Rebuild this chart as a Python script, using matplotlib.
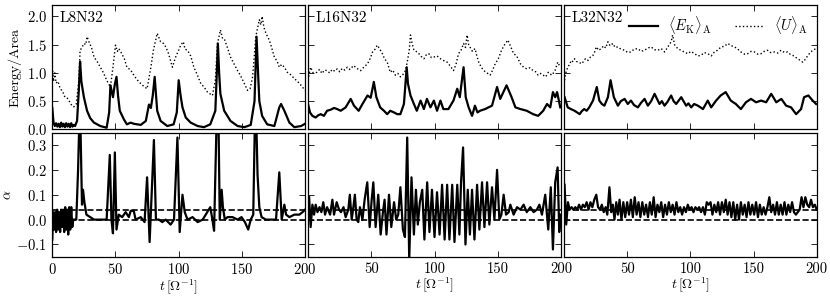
import numpy as np
import matplotlib.pyplot as plt

plt.rcParams['font.family'] = 'serif'
plt.rcParams['font.serif'] = ['cmr10']
plt.rcParams['mathtext.fontset'] = 'cm'
plt.rcParams['axes.formatter.use_mathtext'] = True
plt.rcParams['font.size'] = 10.5

runs = ['L8N32', 'L16N32', 'L32N32']

# ---- L8N32 ----
t_ek_l8 = [0, 1, 2, 3, 4, 5, 6, 7, 8, 9, 10, 11, 12, 13, 14, 15, 16, 17, 18, 19.6, 21, 22, 23, 25, 27.5, 30, 33, 38, 43,
           45, 46, 48, 49.5, 50.8, 52, 53.4, 56.6, 59, 62, 64.5, 70, 74, 76.5, 78, 79.5, 81, 83, 85.7, 91, 96, 98.5,
           100, 101.5, 103, 105.6, 109.5, 115, 120, 125, 129, 130, 131, 132, 133, 136, 141, 146.6, 152, 157, 160,
           161.6, 163, 163.8, 166, 170, 175.7, 179.6, 181, 183.6, 187.6, 191.5, 196.8, 200]
ek_l8 = [0.38, 0.12, 0.06, 0.11, 0.05, 0.1, 0.04, 0.12, 0.05, 0.1, 0.04, 0.11, 0.05, 0.1, 0.04, 0.11, 0.05, 0.08, 0.06,
         0.15, 0.7, 1.2, 0.85, 0.57, 0.33, 0.2, 0.12, 0.06, 0.03,
         0.3, 0.78, 0.57, 0.8, 0.93, 0.6, 0.33, 0.18, 0.09, 0.12, 0.1, 0.08, 0.15, 0.44, 0.38, 0.6, 0.93, 0.33, 0.15,
         0.06, 0.09, 0.3, 0.87, 0.6, 0.39, 0.21, 0.12, 0.06, 0.04, 0.09, 0.33, 0.9, 1.52, 1.0, 0.63, 0.33, 0.15, 0.06,
         0.04, 0.08, 0.5, 1.64, 0.9, 0.5, 0.24, 0.09, 0.06, 0.39, 0.45, 0.33, 0.12, 0.04, 0.06, 0.1]
t_u_l8 = [0, 1, 2, 3, 4.5, 6.3, 8, 10, 12, 14, 15.5, 17, 19, 21, 22, 23.5, 25, 26.5, 27.5, 29, 31, 33, 35.5, 38, 40.5, 43,
          46, 48, 50, 51.5, 52.6, 55, 57, 59, 62, 64.5, 67, 70, 72.5, 75, 78, 80, 81.5, 83, 85.7, 88, 90, 92, 95, 97.6,
          100, 101.6, 103.7, 105, 107, 109.5, 112, 115, 117.5, 120, 122.8, 126.7, 129, 130.7, 132, 133, 134.5, 136,
          138.5, 141, 144, 146.6, 149, 152, 154.5, 156.5, 158.5, 161, 163.8, 165, 166, 167.5, 169, 171.7, 173.5,
          175.7, 178, 179.6, 181.5, 183.6, 186, 188.5, 191.5, 194, 196.8, 200]
u_l8 = [1.1, 0.85, 1.0, 0.82, 0.85, 0.72, 0.68, 0.57, 0.55, 0.48, 0.42, 0.4, 0.45, 0.87, 1.4, 1.45, 1.52, 1.5, 1.64,
        1.55, 1.45, 1.28, 1.2, 1.1, 1.0, 0.87, 0.75, 1.1, 1.49, 1.38, 1.43, 1.34, 1.25, 1.1, 1.05, 0.96, 0.88, 0.81,
        0.76, 0.72, 1.1, 1.4, 1.55, 1.7, 1.55, 1.52, 1.45, 1.34, 1.1, 1.28, 1.4, 1.49, 1.55, 1.42, 1.4, 1.3, 1.1,
        0.95, 0.81, 0.75, 0.66, 0.6, 0.87, 1.52, 1.65, 1.76, 1.62, 1.61, 1.45, 1.28, 1.15, 1.04, 0.95, 0.81, 0.69,
        0.72, 0.93, 1.64, 1.94, 1.85, 2.0, 1.8, 1.7, 1.58, 1.45, 1.28, 1.2, 1.1, 1.15, 1.1, 1.01, 0.97, 0.9, 0.85,
        0.78, 0.69]
t_a_l8 = [0, 0.7, 1.5, 2.3, 3.0, 3.8, 4.6, 5.4, 6.2, 7.0, 7.8, 8.6, 9.4, 10.2, 11.0, 11.8, 12.6, 13.4, 14.2, 15.0,
          15.8, 16.6, 17.5, 19, 20.4, 21.4, 22.2, 23.5, 24.3, 25.4, 27, 30, 33, 38, 43, 45.5, 46.8, 48, 49.5, 50.8,
          52.6, 55.3, 58, 60.6, 62, 64.5, 65.9, 70, 73, 75, 77, 78.6, 80.4, 82, 84.4, 87, 89.7, 93.6, 96.3, 99, 100.8,
          103, 104.8, 107, 111, 115, 119, 121.4, 125, 126.7, 128, 130, 131.5, 132.5, 134, 135, 136.5, 138.6, 142.6,
          146.6, 149.7, 152.4, 155, 157, 159, 160.3, 161.4, 162.4, 163.8, 165.6, 169, 173, 177, 179.6, 181.5, 183.6,
          185, 187.6, 191.5, 195.5, 198, 200]
a_l8 = [-0.08, 0.03, -0.04, 0.03, -0.05, 0.04, -0.04, 0.03, -0.05, 0.04, -0.03, 0.04, -0.05, 0.05, -0.04, 0.04,
        -0.06, 0.05, -0.04, 0.05, -0.03, 0.0, 0.0, 0.0, 0.2, 0.4, 0.4, 0.06, 0.12, 0.07, 0.02, 0.01, 0.0, 0.0, 0.0,
        0.26, 0.0, -0.055, 0.27, -0.04, 0.02, 0.01, 0.03, 0.01, 0.035, 0.035, 0.0, 0.01, -0.01, 0.17, -0.09, 0.1,
        0.32, 0.0, 0.0, -0.01, 0.0, -0.02, 0.0, 0.33, -0.05, 0.1, 0.03, 0.0, 0.01, -0.01, 0.0, 0.02, 0.05, 0.0,
        -0.045, 0.4, 0.4, 0.0, 0.12, 0.05, 0.0, 0.01, 0.01, 0.0, 0.01, -0.01, -0.04, 0.0, 0.02, 0.4, 0.4, 0.18, 0.05,
        0.01, 0.0, 0.0, 0.0, 0.19, 0.0, 0.06, 0.02, 0.01, 0.02, 0.02, 0.03, 0.04]

# ---- L16N32 ----
t_ek_l16 = [0, 1.5, 3.4, 6, 8, 10, 12.5, 15, 18, 20.5, 23, 25.8, 29.7, 33.7, 36.3, 40, 43, 47, 49.5, 52, 54, 57, 60,
            62.6, 65, 68, 70.5, 73, 75.8, 78, 79, 81, 83.7, 86, 89, 91.6, 94, 96.8, 99.5, 102, 104.7, 107, 111, 115,
            118, 120, 123, 124.7, 127, 129.7, 132, 134, 136, 140, 145.5, 149.5, 152, 157, 161, 164, 168, 173, 178,
            182, 186, 189, 191.6, 193.7, 195.5, 197, 199.5]
ek_l16 = [0.44, 0.3, 0.24, 0.21, 0.25, 0.27, 0.24, 0.33, 0.35, 0.38, 0.36, 0.33, 0.39, 0.54, 0.42, 0.33, 0.45, 0.6,
          0.56, 0.84, 0.57, 0.39, 0.33, 0.27, 0.33, 0.3, 0.27, 0.27, 0.45, 1.1, 0.81, 0.6, 0.45, 0.33, 0.51, 0.36,
          0.54, 0.39, 0.51, 0.33, 0.51, 0.36, 0.36, 0.51, 0.72, 0.57, 1.1, 0.57, 0.39, 0.24, 0.42, 0.3, 0.33, 0.36,
          0.42, 0.75, 0.54, 0.78, 0.57, 0.39, 0.36, 0.33, 0.27, 0.24, 0.33, 0.45, 0.39, 0.66, 0.57, 0.66, 0.39]
t_u_l16 = [0, 1, 2, 4, 7, 9, 11, 13, 15, 17, 19, 21, 23, 25, 27, 29, 31, 33, 36, 38.5, 41.6, 44, 47, 49, 51, 53,
           54.7, 56.5, 58.7, 60.5, 62.6, 65, 67, 69, 71, 73, 75, 77, 78.5, 80, 81, 82, 83.7, 85.5, 87.6, 89.5, 91.6,
           93.5, 95.5, 97.5, 99.5, 102, 104.7, 107, 110, 112.5, 115, 117, 119, 121, 123, 124.5, 125.8, 127, 128,
           130, 132, 133.5, 135, 137, 139, 141.5, 144, 146, 148, 150.5, 153, 155.5, 158, 160, 162.6, 165, 168,
           170.5, 173, 175.5, 178, 180, 182, 184, 186, 188, 190, 191.5, 193, 195.5, 197.5, 199.5]
u_l16 = [0.87, 1.0, 1.1, 1.0, 1.01, 1.06, 0.99, 1.05, 1.04, 1.0, 1.06, 1.03, 1.07, 1.02, 1.08, 1.05, 1.1, 1.06, 1.13,
         1.08, 1.04, 1.1, 1.16, 1.25, 1.37, 1.42, 1.49, 1.43, 1.34, 1.25, 1.19, 1.01, 1.05, 0.96, 0.99, 0.93, 0.97,
         1.04, 1.2, 1.4, 1.67, 1.55, 1.4, 1.38, 1.34, 1.29, 1.25, 1.32, 1.34, 1.27, 1.28, 1.3, 1.25, 1.22, 1.19,
         1.12, 1.04, 1.15, 1.34, 1.4, 1.52, 1.45, 1.67, 1.5, 1.46, 1.38, 1.43, 1.3, 1.19, 1.1, 1.04, 1.0, 0.96, 1.05,
         1.16, 1.25, 1.4, 1.5, 1.58, 1.48, 1.34, 1.3, 1.16, 1.1, 1.07, 1.09, 1.04, 1.02, 0.96, 0.99, 0.96, 0.93,
         1.01, 0.98, 0.96, 1.05, 1.19, 1.1]
t_a_l16 = [0.8, 2, 3.4, 4.7, 6, 7.4, 9, 10.5, 12, 13.4, 15, 17.4, 19.2, 20.5, 22.6, 24.5, 26, 28, 29.7, 31.8, 33,
           34.5, 35.8, 37, 38.4, 39.7, 41, 43, 44.7, 46.8, 48.7, 50.3, 51.6, 53.4, 55.5, 57.4, 59.2, 60.5, 62, 64,
           65.8, 68, 69.7, 71.3, 73, 75, 76.6, 78.4, 80, 81.8, 83.7, 85.3, 86.8, 88.4, 90.3, 92, 94.2, 96, 98, 100,
           102, 104, 106, 108, 110, 111.8, 114, 115.8, 118, 119.7, 121, 122.6, 124.5, 126.3, 128, 129.7, 131.6,
           133.7, 135.5, 137.6, 139.5, 141.6, 143.4, 145.5, 147.4, 149.5, 151.3, 152.9, 154.7, 156.6, 158.7, 160,
           162.6, 165.3, 168, 170.5, 173, 175.8, 178.4, 181, 183, 185, 187.6, 190, 192, 193.7, 195.5, 197.4, 198.7,
           199.7]
a_l16 = [0.09, -0.03, 0.06, 0.02, 0.06, 0.03, 0.05, 0.03, 0.07, 0.02, 0.05, 0.02, 0.08, 0.02, 0.07, 0.04, 0.03,
         0.05, 0.01, 0.04, 0.1, 0.0, 0.05, 0.1, 0.0, -0.01, 0.05, 0.0, 0.08, 0.15, -0.03, 0.08, 0.15, -0.03, 0.1,
         -0.06, 0.03, 0.08, -0.06, 0.1, -0.03, 0.07, 0.0, 0.02, 0.13, -0.04, -0.07, 0.33, -0.16, 0.17, -0.06, 0.12,
         -0.02, 0.07, 0.12, -0.08, 0.15, -0.05, 0.12, -0.07, 0.11, -0.06, 0.14, -0.08, 0.14, -0.08, 0.14, -0.09,
         0.14, -0.06, 0.15, 0.29, -0.1, 0.12, -0.06, 0.12, -0.08, 0.14, -0.04, 0.15, -0.03, 0.15, -0.02, 0.13, 0.0,
         0.2, 0.0, 0.02, 0.1, 0.02, 0.03, 0.06, 0.02, 0.05, 0.04, 0.06, 0.03, 0.05, 0.03, 0.04, 0.06, 0.02, 0.1,
         -0.04, 0.13, -0.12, 0.15, 0.21, -0.05, 0.02]

# ---- L32N32 ----
t_ek_l32 = [0.5, 3, 5.5, 8.4, 10.5, 12.4, 14, 16, 18, 20, 23, 26, 28, 30, 32, 34.8, 36.9, 39.5, 42.7, 45, 48, 50.5,
            53, 55.5, 58.5, 61, 63.8, 66.4, 69, 71.7, 75.6, 77.5, 79.6, 82, 84.8, 86.8, 88.8, 92.8, 96.7, 98.5, 100.7,
            103, 106, 110, 113.8, 116.5, 120.4, 124, 128, 132, 136, 140, 144, 148, 152, 156, 160, 164, 168, 172,
            175.8, 179.7, 183.7, 187.6, 190, 193.4, 196.8, 199.5]
ek_l32 = [0.57, 0.39, 0.36, 0.33, 0.3, 0.27, 0.32, 0.36, 0.33, 0.39, 0.51, 0.75, 0.51, 0.45, 0.42, 0.57, 0.87, 0.57,
          0.42, 0.5, 0.54, 0.45, 0.51, 0.43, 0.39, 0.47, 0.54, 0.42, 0.5, 0.63, 0.45, 0.5, 0.42, 0.49, 0.6, 0.5,
          0.45, 0.57, 0.42, 0.46, 0.39, 0.45, 0.42, 0.36, 0.51, 0.39, 0.51, 0.6, 0.66, 0.51, 0.45, 0.36, 0.48, 0.54,
          0.48, 0.51, 0.48, 0.63, 0.48, 0.54, 0.42, 0.39, 0.27, 0.36, 0.57, 0.6, 0.51, 0.45]
t_u_l32 = [0.5, 1.5, 3, 4.5, 5.8, 7, 8.4, 10, 12, 13.7, 15.5, 17, 19, 21, 23, 24.5, 25.6, 27.5, 29.5, 31.5, 33,
           34.8, 36.5, 38.7, 40.5, 42.7, 45, 48, 50.5, 53, 55.5, 58.5, 61, 63.8, 66.5, 69, 71.5, 74.3, 77, 79.6, 82,
           84.8, 86, 87.5, 88.8, 90.5, 92.8, 95, 98, 100.5, 103.3, 106, 108.5, 111, 113.8, 116.5, 119, 121.5, 124.4,
           127, 129.6, 132.5, 135, 137.5, 140, 143, 145.4, 148, 150.7, 153.5, 156, 158.5, 161, 163.5, 166.5, 169,
           171.8, 174.5, 177, 179, 181, 183, 185, 187, 189, 191, 193, 195, 196.8, 199.5]
u_l32 = [0.87, 1.0, 1.1, 1.15, 1.22, 1.2, 1.25, 1.2, 1.19, 1.16, 1.2, 1.25, 1.22, 1.28, 1.31, 1.38, 1.46, 1.4, 1.43,
         1.48, 1.44, 1.55, 1.48, 1.52, 1.45, 1.46, 1.42, 1.4, 1.36, 1.37, 1.42, 1.43, 1.38, 1.4, 1.44, 1.46, 1.41,
         1.4, 1.43, 1.37, 1.45, 1.55, 1.67, 1.5, 1.46, 1.42, 1.4, 1.37, 1.34, 1.38, 1.34, 1.3, 1.31, 1.36, 1.34,
         1.3, 1.37, 1.4, 1.46, 1.47, 1.52, 1.48, 1.46, 1.42, 1.37, 1.33, 1.34, 1.38, 1.37, 1.33, 1.34, 1.38, 1.4,
         1.36, 1.37, 1.35, 1.4, 1.36, 1.37, 1.33, 1.31, 1.28, 1.25, 1.22, 1.19, 1.24, 1.31, 1.36, 1.4, 1.43]
t_a_l32 = [0.5, 1.8, 3.2, 4.5, 6, 7.5, 9, 10.5, 12, 13.5, 15, 16.5, 18, 19.5, 21, 22.5, 24, 25.6, 27, 28.5, 30, 31.5,
           33, 34.3, 36, 37.4, 38.7, 40, 41.4, 42.7, 44, 45.5, 47, 48.5, 50, 51.5, 53, 54.5, 56, 57.5, 59, 60.5, 62,
           63.5, 65, 66.5, 68, 69.5, 71, 72.5, 74, 75.5, 77, 78.5, 80, 81.5, 83, 84.5, 86, 87.5, 89, 90.5, 92, 93.5,
           95, 96.5, 98, 99.5, 101, 102.5, 104, 105.5, 107, 108.5, 110, 111.5, 113, 114.5, 116, 117.5, 119, 120.5,
           122, 123.5, 125, 126.5, 128, 129.5, 131, 132.5, 134, 135.5, 137, 138.5, 140, 141.5, 143, 144.5, 146,
           147.5, 149, 150.5, 152, 153.5, 155, 156.5, 158, 159.5, 161, 162.5, 164, 165.5, 167, 168.5, 170, 171.5,
           173, 174.5, 176, 177.5, 179, 180.5, 182, 183.5, 185, 186.5, 188, 189.5, 191, 192.5, 194, 195.5, 197,
           198.5, 200]
a_l32 = [0.14, -0.02, 0.07, 0.04, 0.05, 0.04, 0.05, 0.04, 0.06, 0.04, 0.06, 0.05, 0.07, 0.04, 0.07, 0.05, 0.08, 0.1,
         0.05, 0.04, 0.06, 0.03, 0.05, 0.02, 0.13, 0.03, 0.06, 0.0, 0.07, 0.02, 0.08, 0.0, 0.07, 0.01, 0.07, 0.02,
         0.08, 0.01, 0.09, 0.02, 0.07, 0.01, 0.07, 0.02, 0.06, 0.01, 0.07, 0.02, 0.09, 0.01, 0.06, 0.03, 0.07, 0.01,
         0.06, 0.02, 0.07, 0.03, 0.06, 0.02, 0.07, 0.03, 0.05, 0.02, 0.05, 0.03, 0.06, 0.04, 0.05, 0.03, 0.05, 0.04,
         0.05, 0.03, 0.05, 0.02, 0.07, 0.06, 0.07, 0.02, 0.06, 0.03, 0.07, 0.02, 0.07, 0.03, 0.08, 0.02, 0.07, 0.01,
         0.07, 0.0, 0.06, 0.0, 0.07, 0.02, 0.06, 0.01, 0.07, 0.02, 0.06, 0.02, 0.07, 0.01, 0.06, 0.02, 0.05, 0.02,
         0.05, 0.09, 0.03, 0.06, 0.02, 0.07, 0.02, 0.06, 0.02, 0.07, 0.02, 0.06, 0.03, 0.07, 0.03, 0.02, 0.03, 0.04,
         0.09, 0.05, 0.09, 0.06, 0.05, 0.08, 0.05, 0.06, 0.04]

alpha_mean = [0.038, 0.04, 0.04]

t_ek = [t_ek_l8, t_ek_l16, t_ek_l32]
ek = [ek_l8, ek_l16, ek_l32]
t_u = [t_u_l8, t_u_l16, t_u_l32]
u = [u_l8, u_l16, u_l32]
t_a = [t_a_l8, t_a_l16, t_a_l32]
a = [a_l8, a_l16, a_l32]

fig, axes = plt.subplots(2, 3, figsize=(8.3, 2.96), dpi=100)
fig.subplots_adjust(left=0.063, right=0.984, top=0.983, bottom=0.132, wspace=0.012, hspace=0.025)

for i in range(3):
    ax1 = axes[0, i]
    ax2 = axes[1, i]
    ax1.plot(t_ek[i], ek[i], color='k', lw=1.6, label=r'$\langle E_{\rm K}\rangle_{\rm A}$')
    ax1.plot(t_u[i], u[i], color='k', lw=1.0, ls=':', label=r'$\langle U\rangle_{\rm A}$')
    ax1.text(0.03, 0.95, runs[i], transform=ax1.transAxes, va='top', ha='left', fontsize=11)
    ax1.set_ylim(0, 2.2)
    ax1.set_yticks([0, 0.5, 1.0, 1.5, 2.0])

    ax2.plot(t_a[i], a[i], color='k', lw=1.6)
    ax2.axhline(0, color='k', ls='--', lw=1.2)
    ax2.axhline(alpha_mean[i], color='k', ls='--', lw=1.2)
    ax2.set_ylim(-0.15, 0.35)
    ax2.set_yticks([-0.1, 0.0, 0.1, 0.2, 0.3])
    ax2.set_xlabel(r'$t\,[\Omega^{-1}]$', labelpad=0, fontsize=10)

    for ax in (ax1, ax2):
        ax.set_xlim(0, 200)
        ax.set_xticks([0, 50, 100, 150, 200])
        ax.tick_params(direction='in', top=True, right=True, length=4, width=0.6, pad=4)
        for s in ax.spines.values():
            s.set_linewidth(0.9)
    ax1.set_xticklabels([])
    if i > 0:
        ax1.set_yticklabels([])
        ax2.set_yticklabels([])
        ax2.set_xticklabels(['', '50', '100', '150', '200'])

axes[0, 0].set_ylabel('Energy/Area', fontsize=10)
axes[1, 0].set_ylabel(r'$\alpha$', fontsize=10, labelpad=1)
axes[0, 2].legend(loc='upper right', ncol=2, frameon=False, handlelength=2.0, handletextpad=0.7,
                  columnspacing=1.6, borderaxespad=0.2, fontsize=10.5)

plt.savefig('out.png', dpi=100)
